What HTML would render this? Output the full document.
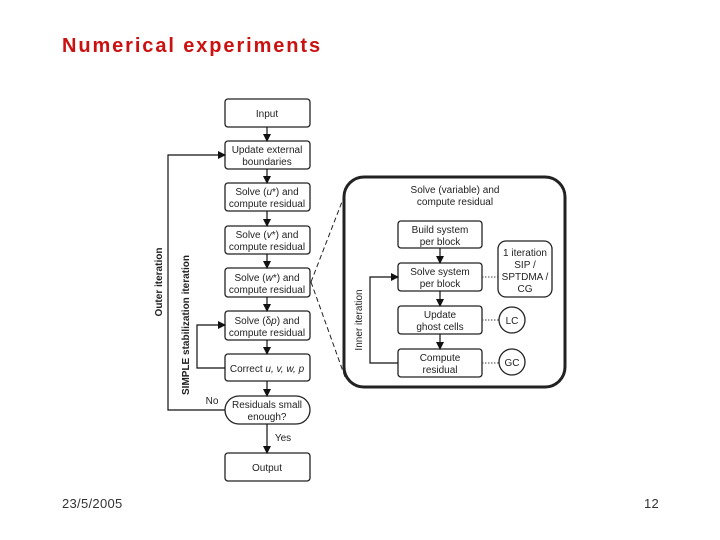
<!DOCTYPE html>
<html><head><meta charset="utf-8"><style>
body{margin:0;width:720px;height:540px;background:#fff;overflow:hidden;position:relative;font-family:"Liberation Sans",sans-serif}
.t{position:absolute;left:62px;top:35px;color:#cc1111;font-weight:bold;font-size:20px;letter-spacing:1.9px}
.f{position:absolute;top:496px;font-size:13px;color:#333;letter-spacing:0.3px}
svg{position:absolute;left:0;top:0}
svg text{font-family:"Liberation Sans",sans-serif;font-size:10px;fill:#222;text-anchor:middle}
</style></head><body>
<div class="t">Numerical experiments</div>
<div class="f" style="left:62px">23/5/2005</div>
<div class="f" style="left:644px">12</div>
<svg width="720" height="540">
<defs><marker id="a" markerWidth="8" markerHeight="8" refX="7" refY="4" orient="auto" markerUnits="userSpaceOnUse"><path d="M0,0L8,4L0,8z" fill="#111"/></marker></defs>
<g fill="#fff" stroke="#222" stroke-width="1.3">
<rect x="225" y="99" width="85" height="28" rx="3"/>
<rect x="225" y="141" width="85" height="28" rx="3"/>
<rect x="225" y="183" width="85" height="28" rx="3"/>
<rect x="225" y="226" width="85" height="28" rx="3"/>
<rect x="225" y="268" width="85" height="29" rx="3"/>
<rect x="225" y="311" width="85" height="29" rx="3"/>
<rect x="225" y="354" width="85" height="27" rx="3"/>
<rect x="225" y="396" width="85" height="28" rx="14"/>
<rect x="225" y="453" width="85" height="28" rx="3"/>
<rect x="344" y="177" width="221" height="210" rx="20" stroke-width="3"/>
<rect x="398" y="221" width="84" height="27" rx="3"/>
<rect x="398" y="263" width="84" height="28" rx="3"/>
<rect x="398" y="306" width="84" height="28" rx="3"/>
<rect x="398" y="349" width="84" height="28" rx="3"/>
<rect x="498" y="241" width="54" height="56" rx="8"/>
<circle cx="512" cy="320" r="13"/>
<circle cx="512" cy="362" r="13"/>
</g>
<g stroke="#111" stroke-width="1.2" fill="none" marker-end="url(#a)">
<line x1="267" y1="127" x2="267" y2="141"/>
<line x1="267" y1="169" x2="267" y2="183"/>
<line x1="267" y1="211" x2="267" y2="226"/>
<line x1="267" y1="254" x2="267" y2="268"/>
<line x1="267" y1="297" x2="267" y2="311"/>
<line x1="267" y1="340" x2="267" y2="354"/>
<line x1="267" y1="381" x2="267" y2="396"/>
<line x1="267" y1="424" x2="267" y2="453"/>
<polyline points="225,410 168,410 168,155 225,155"/>
<polyline points="225,368 197,368 197,325 225,325"/>
<line x1="440" y1="248" x2="440" y2="263"/>
<line x1="440" y1="291" x2="440" y2="306"/>
<line x1="440" y1="334" x2="440" y2="349"/>
<polyline points="398,363 370,363 370,277 398,277"/>
</g>
<g stroke="#222" stroke-width="1" stroke-dasharray="5,3" fill="none">
<line x1="311" y1="282" x2="345" y2="194"/>
<line x1="311" y1="282" x2="345" y2="377"/>
</g>
<g stroke="#444" stroke-width="1" stroke-dasharray="1.5,1.5">
<line x1="482" y1="277" x2="498" y2="277"/>
<line x1="482" y1="320" x2="499" y2="320"/>
<line x1="482" y1="363" x2="499" y2="363"/>
</g>
<text x="267" y="117">Input</text>
<text x="267" y="153">Update external</text><text x="267" y="165">boundaries</text>
<text x="267" y="195">Solve (<tspan font-style="italic">u</tspan>*) and</text><text x="267" y="207">compute residual</text>
<text x="267" y="238">Solve (<tspan font-style="italic">v</tspan>*) and</text><text x="267" y="250">compute residual</text>
<text x="267" y="281">Solve (<tspan font-style="italic">w</tspan>*) and</text><text x="267" y="293">compute residual</text>
<text x="267" y="324">Solve (δ<tspan font-style="italic">p</tspan>) and</text><text x="267" y="336">compute residual</text>
<text x="267" y="372">Correct <tspan font-style="italic">u, v, w, p</tspan></text>
<text x="267" y="408">Residuals small</text><text x="267" y="420">enough?</text>
<text x="267" y="471">Output</text>
<text x="212" y="404">No</text>
<text x="283" y="441">Yes</text>
<text transform="translate(162,282) rotate(-90)" font-weight="bold">Outer iteration</text>
<text transform="translate(189,325) rotate(-90)" font-weight="bold">SIMPLE stabilization iteration</text>
<text transform="translate(362,320) rotate(-90)">Inner iteration</text>
<text x="455" y="193">Solve (variable) and</text><text x="455" y="205">compute residual</text>
<text x="440" y="233">Build system</text><text x="440" y="245">per block</text>
<text x="440" y="275">Solve system</text><text x="440" y="287">per block</text>
<text x="440" y="318">Update</text><text x="440" y="330">ghost cells</text>
<text x="440" y="361">Compute</text><text x="440" y="373">residual</text>
<text x="525" y="256">1 iteration</text><text x="525" y="268">SIP /</text><text x="525" y="280">SPTDMA /</text><text x="525" y="292">CG</text>
<text x="512" y="324">LC</text>
<text x="512" y="366">GC</text>
</svg>
</body></html>
